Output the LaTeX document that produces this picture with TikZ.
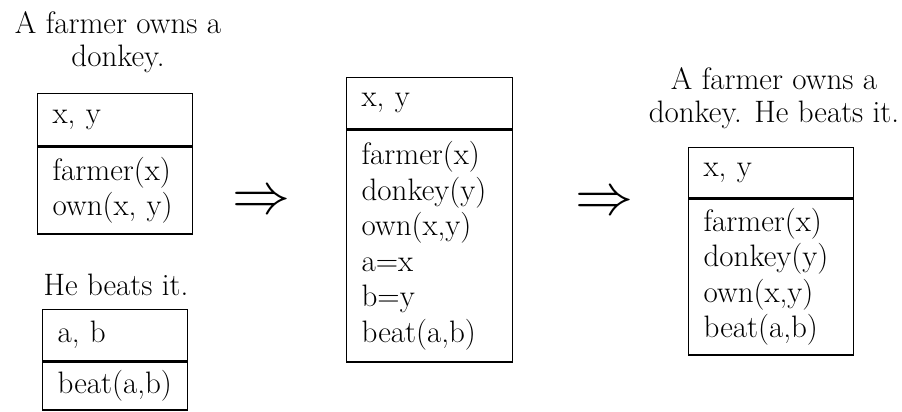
\documentclass[tikz,border=0pt]{standalone}
\usepackage{fontspec}
\begin{document}
\begin{tikzpicture}[x=1pt,y=-1pt,
  every node/.style={font=\fontsize{31}{35.5}\selectfont, inner sep=0pt},
  drsbox/.style={draw, line width=1.3pt, anchor=north west, align=left, inner xsep=15pt, inner ysep=0pt},
  caption/.style={anchor=north, align=center, font=\fontsize{31}{33.5}\selectfont},
  implies/.style={inner sep=0pt, font=\normalsize}]
\useasboundingbox (0,0) rectangle (902,412);
% left: first sentence
\node[caption] (t1) at (118,11) {A farmer owns a\\donkey.};
\node[drsbox, text width=125pt, minimum height=52pt] (b1h) at (37,93) {x, y};
\node[drsbox, text width=125pt, minimum height=87pt] (b1b) at (b1h.south west) {farmer(x)\\own(x, y)};
% left: second sentence
\node[caption] (t2) at (116,274) {He beats it.};
\node[drsbox, text width=115pt, minimum height=51pt] (b2h) at (42,309) {a, b};
\node[drsbox, text width=115pt, minimum height=48pt] (b2b) at (b2h.south west) {beat(a,b)};
% arrows
\node[implies] (a1) at (261,203) {\scalebox{5.8}{$\Rightarrow$}};
\node[implies] (a2) at (604,204) {\scalebox{5.8}{$\Rightarrow$}};
% middle box
\node[drsbox, text width=136pt, minimum height=51pt] (b3h) at (346,77) {x, y};
\node[drsbox, text width=136pt, minimum height=232pt] (b3b) at (b3h.south west) {farmer(x)\\donkey(y)\\own(x,y)\\a=x\\b=y\\beat(a,b)};
% right
\node[caption] (t3) at (774,67) {A farmer owns a\\donkey. He beats it.};
\node[drsbox, text width=135pt, minimum height=50pt] (b4h) at (688,147) {x, y};
\node[drsbox, text width=135pt, minimum height=156pt] (b4b) at (b4h.south west) {farmer(x)\\donkey(y)\\own(x,y)\\beat(a,b)};
\end{tikzpicture}
\end{document}
